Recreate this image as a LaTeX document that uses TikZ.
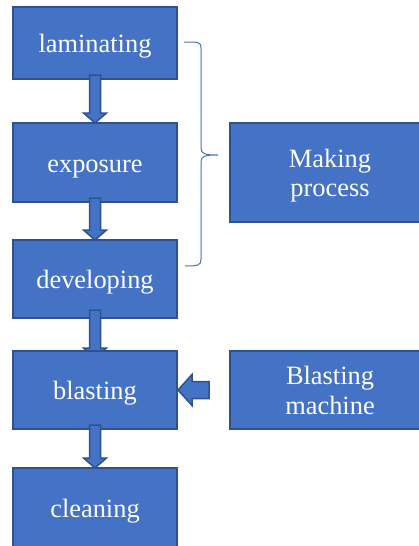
\documentclass[tikz,border=0pt]{standalone}
\usepackage{fontspec}
\setmainfont{Liberation Serif}
\usetikzlibrary{calc}
\definecolor{boxfill}{HTML}{4472C4}
\definecolor{boxline}{HTML}{2F528F}
\tikzset{
  procbox/.style={draw=boxline, fill=boxfill, line width=1.5pt, text=white,
    inner sep=0pt, outer sep=0pt, align=center, text height=23pt, text depth=4pt,
    font=\fontsize{26.4}{29.7}\selectfont},
  twoline/.style={text height=52.7pt, text depth=4pt},
  barrow/.style={draw=boxline, fill=boxfill, line width=1.5pt, line join=miter},
  bracestyle/.style={draw=boxfill, line width=1pt}
}
\newcommand{\blockdown}[2]{%
  \draw[barrow] ($(#1.south)+(-5.5,-4)$) -- ($(#1.south)+(5.5,-4)$)
    -- ($(#2.north)+(5.5,-10)$) -- ($(#2.north)+(11.5,-10)$) -- (#2.north)
    -- ($(#2.north)+(-11.5,-10)$) -- ($(#2.north)+(-5.5,-10)$) -- cycle;}
\begin{document}
\begin{tikzpicture}[x=1pt,y=-1pt]
\useasboundingbox (0,0) rectangle (419,546);
% boxes
\node[procbox, minimum width=164pt, minimum height=72pt] (lam) at (95,43) {laminating};
\node[procbox, minimum width=164pt, minimum height=79pt] (exp) at (95,162.5) {exposure};
\node[procbox, minimum width=164pt, minimum height=78pt] (dev) at (95,279) {developing};
% arrow behind blasting box (head hidden)
\coordinate (blasttop) at (95,358);
\draw[barrow] ($(dev.south)+(-5.5,-8)$) -- ($(dev.south)+(5.5,-8)$)
  -- ($(blasttop)+(5.5,-10)$) -- ($(blasttop)+(11.5,-10)$) -- (blasttop)
  -- ($(blasttop)+(-11.5,-10)$) -- ($(blasttop)+(-5.5,-10)$) -- cycle;
\node[procbox, minimum width=164pt, minimum height=78pt] (blast) at (95,390) {blasting};
\node[procbox, minimum width=164pt, minimum height=80pt] (clean) at (95,508) {cleaning};
\node[procbox, twoline, minimum width=200pt, minimum height=99pt] (mp) at (330,172.5) {Making\\process};
\node[procbox, twoline, minimum width=200pt, minimum height=78pt] (bm) at (330,390) {Blasting\\machine};
% down arrows
\blockdown{lam}{exp}
\blockdown{exp}{dev}
\blockdown{blast}{clean}
% left arrow from blasting machine
\draw[barrow] ($(bm.west)+(-21,-8.5)$) -- ($(bm.west)+(-21,8.5)$)
  -- ($(blast.east)+(15,8.5)$) -- ($(blast.east)+(15,15.5)$) -- ($(blast.east)+(1,0)$)
  -- ($(blast.east)+(15,-15.5)$) -- ($(blast.east)+(15,-8.5)$) -- cycle;
% brace
\coordinate (bt) at (184,42);
\coordinate (btip) at (218,155);
\coordinate (bb) at (185,266);
\draw[bracestyle] (bt) .. controls (199,42) and (201,42) .. (201,48)
  -- (201,148) .. controls (201,154) and (205,155) .. (btip)
  .. controls (205,155) and (201,156) .. (201,162)
  -- (201,259) .. controls (201,265) and (199,266) .. (bb);
\end{tikzpicture}
\end{document}
